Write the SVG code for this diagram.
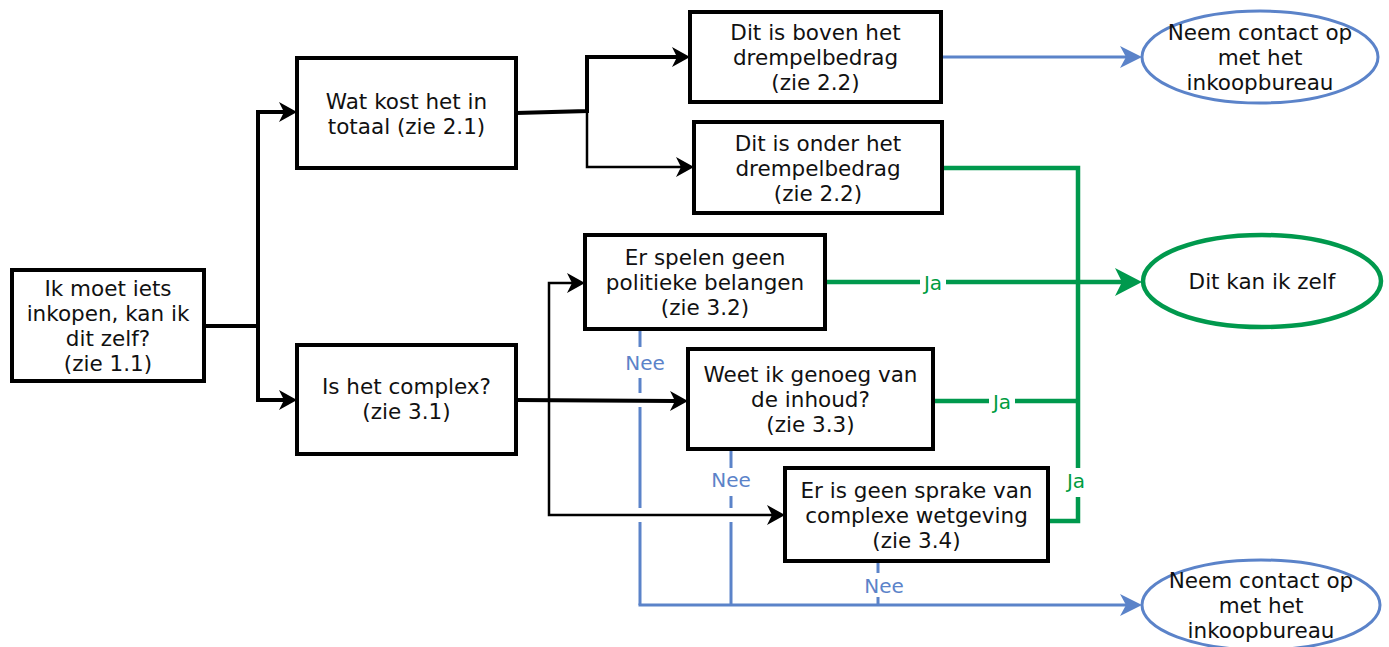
<svg xmlns="http://www.w3.org/2000/svg" width="1389" height="647" viewBox="0 0 1389 647">
<style>
  .box { fill: #ffffff; stroke: #000000; stroke-width: 4; }
  .ell-blue { fill: #ffffff; stroke: #5B83C9; stroke-width: 3; }
  .ell-green { fill: #ffffff; stroke: #00994D; stroke-width: 4.5; }
  .t { font-family: "DejaVu Sans", Verdana, sans-serif; font-size: 21.5px; fill: #111111; text-anchor: middle; }
  .lbl { font-family: "DejaVu Sans", Verdana, sans-serif; font-size: 20px; text-anchor: middle; }
  .nee { fill: #5B83C9; }
  .ja { fill: #009C3F; }
  .thick { fill: none; stroke: #000000; stroke-width: 4; }
  .thin { fill: none; stroke: #000000; stroke-width: 2.5; }
  .blue { fill: none; stroke: #5B83C9; stroke-width: 3; }
  .green { fill: none; stroke: #00994D; stroke-width: 4.5; }
  .bg { fill: #ffffff; stroke: none; }
</style>
<defs>
  <marker id="arrBlack" markerUnits="userSpaceOnUse" viewBox="-6 -12 20 24" markerWidth="20" markerHeight="24" refX="0" refY="0" orient="auto" overflow="visible">
    <path d="M13,0 L-5,-10 L0,0 L-5,10 Z" fill="#000000"/>
  </marker>
  <marker id="arrBlue" markerUnits="userSpaceOnUse" viewBox="-7 -12 24 24" markerWidth="24" markerHeight="24" refX="0" refY="0" orient="auto" overflow="visible">
    <path d="M16,0 L-6,-11 L0,0 L-6,11 Z" fill="#5B83C9"/>
  </marker>
  <marker id="arrGreen" markerUnits="userSpaceOnUse" viewBox="-8 -15 30 30" markerWidth="30" markerHeight="30" refX="0" refY="0" orient="auto" overflow="visible">
    <path d="M20,0 L-7,-14 L0,0 L-7,14 Z" fill="#00994D"/>
  </marker>
</defs>

<g id="connectors">
  <!-- blue (drawn first, with gaps at crossings) -->
  <line class="blue" x1="942" y1="57" x2="1126" y2="57" marker-end="url(#arrBlue)"/>
  <line class="blue" x1="640" y1="329" x2="640" y2="393"/>
  <line class="blue" x1="640" y1="407" x2="640" y2="508"/>
  <line class="blue" x1="640" y1="522" x2="640" y2="605"/>
  <line class="blue" x1="731" y1="449" x2="731" y2="508"/>
  <line class="blue" x1="731" y1="522" x2="731" y2="605"/>
  <line class="blue" x1="878" y1="561" x2="878" y2="605"/>
  <polyline class="blue" points="638.5,605 1126,605" marker-end="url(#arrBlue)"/>

  <!-- black -->
  <polyline class="thick" points="204,326 258,326 258,112 284,112" marker-end="url(#arrBlack)"/>
  <polyline class="thick" points="258,326 258,400 284,400" marker-end="url(#arrBlack)"/>
  <polyline class="thick" points="516,113 587,111 587,57 677,57" marker-end="url(#arrBlack)"/>
  <polyline class="thin" points="587,111 587,167 681,167" marker-end="url(#arrBlack)"/>
  <polyline class="thick" points="516,400 675,401" marker-end="url(#arrBlack)"/>
  <polyline class="thin" points="549,400 549,283 572,283" marker-end="url(#arrBlack)"/>
  <polyline class="thin" points="549,400 549,515 772,515" marker-end="url(#arrBlack)"/>

  <!-- green -->
  <polyline class="green" points="942,168 1078,168 1078,521 1048,521"/>
  <polyline class="green" points="933,401 1078,401"/>
  <polyline class="green" points="826,282 1122,282" marker-end="url(#arrGreen)"/>

  <!-- labels -->
  <rect class="bg" x="624" y="347" width="44" height="31"/>
  <text class="lbl nee" x="645" y="370">Nee</text>
  <rect class="bg" x="709" y="468" width="44" height="28"/>
  <text class="lbl nee" x="731" y="487">Nee</text>
  <rect class="bg" x="862" y="573" width="44" height="24"/>
  <text class="lbl nee" x="884" y="593">Nee</text>
  <rect class="bg" x="920" y="272" width="26" height="22"/>
  <text class="lbl ja" x="933" y="290">Ja</text>
  <rect class="bg" x="989" y="391" width="26" height="22"/>
  <text class="lbl ja" x="1002" y="409">Ja</text>
  <rect class="bg" x="1063" y="468" width="26" height="29"/>
  <text class="lbl ja" x="1076" y="488">Ja</text>
</g>

<g id="n-start">
  <rect class="box" x="12" y="270" width="192" height="111"/>
  <text class="t" x="108" y="296">Ik moet iets</text>
  <text class="t" x="108" y="321">inkopen, kan ik</text>
  <text class="t" x="108" y="346">dit zelf?</text>
  <text class="t" x="108" y="371">(zie 1.1)</text>
</g>
<g id="n-kosten">
  <rect class="box" x="297" y="58" width="219" height="110"/>
  <text class="t" x="406.5" y="109">Wat kost het in</text>
  <text class="t" x="406.5" y="134">totaal (zie 2.1)</text>
</g>
<g id="n-complex">
  <rect class="box" x="297" y="345" width="219" height="109"/>
  <text class="t" x="406.5" y="394">Is het complex?</text>
  <text class="t" x="406.5" y="419">(zie 3.1)</text>
</g>
<g id="n-boven">
  <rect class="box" x="690" y="12" width="251" height="90"/>
  <text class="t" x="815.5" y="40">Dit is boven het</text>
  <text class="t" x="815.5" y="65">drempelbedrag</text>
  <text class="t" x="815.5" y="90">(zie 2.2)</text>
</g>
<g id="n-onder">
  <rect class="box" x="694" y="122" width="248" height="91"/>
  <text class="t" x="818" y="151">Dit is onder het</text>
  <text class="t" x="818" y="176">drempelbedrag</text>
  <text class="t" x="818" y="201">(zie 2.2)</text>
</g>
<g id="n-politiek">
  <rect class="box" x="585" y="235" width="240" height="94"/>
  <text class="t" x="705" y="265">Er spelen geen</text>
  <text class="t" x="705" y="290">politieke belangen</text>
  <text class="t" x="705" y="315">(zie 3.2)</text>
</g>
<g id="n-inhoud">
  <rect class="box" x="688" y="349" width="245" height="100"/>
  <text class="t" x="810.5" y="382">Weet ik genoeg van</text>
  <text class="t" x="810.5" y="407">de inhoud?</text>
  <text class="t" x="810.5" y="432">(zie 3.3)</text>
</g>
<g id="n-wetgeving">
  <rect class="box" x="785" y="468" width="263" height="93"/>
  <text class="t" x="916.5" y="498">Er is geen sprake van</text>
  <text class="t" x="916.5" y="523">complexe wetgeving</text>
  <text class="t" x="916.5" y="548">(zie 3.4)</text>
</g>
<g id="n-contact1">
  <ellipse class="ell-blue" cx="1260" cy="57" rx="118" ry="46"/>
  <text class="t" x="1260" y="40">Neem contact op</text>
  <text class="t" x="1260" y="65">met het</text>
  <text class="t" x="1260" y="90">inkoopbureau</text>
</g>
<g id="n-zelf">
  <ellipse class="ell-green" cx="1262" cy="281" rx="119" ry="46"/>
  <text class="t" x="1262" y="289">Dit kan ik zelf</text>
</g>
<g id="n-contact2">
  <ellipse class="ell-blue" cx="1261" cy="605" rx="119" ry="45"/>
  <text class="t" x="1261" y="588">Neem contact op</text>
  <text class="t" x="1261" y="613">met het</text>
  <text class="t" x="1261" y="638">inkoopbureau</text>
</g>
</svg>
